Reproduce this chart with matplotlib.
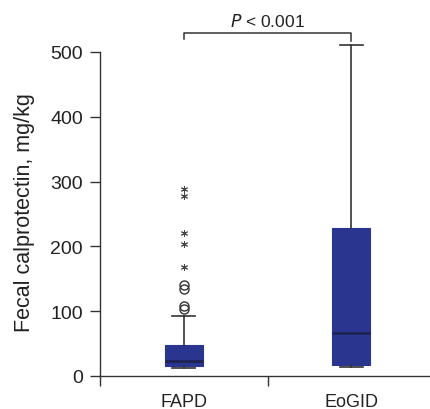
import matplotlib
matplotlib.use("Agg")
import matplotlib.pyplot as plt

plt.rcParams["font.family"] = ["Liberation Sans", "DejaVu Sans"]

categories = ["FAPD", "EoGID"]
q1 = [15.5, 17.5]
medians = [23, 66]
q3 = [47.5, 228]
whisker_low = [12.5, 14]
whisker_high = [92.5, 511]
mild_outliers = [[104, 108, 134, 140], []]
extreme_outliers = [[168, 204, 221, 278, 289], []]
y_ticks = [0, 100, 200, 300, 400, 500]
p_text = "< 0.001"

BOX_COLOR = "#2A3590"
MEDIAN_COLOR = "#1C2150"
LINE_COLOR = "#333333"
TEXT_COLOR = "#222222"

fig = plt.figure(figsize=(4.3, 4.1), dpi=100)
ax = fig.add_axes([0.2326, 0.0805, 0.7674, 0.8851])

positions = [0.5, 1.5]
stats = []
for i, name in enumerate(categories):
  stats.append({"label": name, "q1": q1[i], "med": medians[i], "q3": q3[i],
                "whislo": whisker_low[i], "whishi": whisker_high[i],
                "fliers": mild_outliers[i]})

ax.bxp(stats, positions=positions, widths=0.226, patch_artist=True,
       showfliers=True,
       boxprops={"facecolor": BOX_COLOR, "edgecolor": BOX_COLOR, "linewidth": 0.8},
       medianprops={"color": MEDIAN_COLOR, "linewidth": 1.8},
       whiskerprops={"color": LINE_COLOR, "linewidth": 1.2},
       capprops={"color": LINE_COLOR, "linewidth": 1.2},
       capwidths=0.137,
       flierprops={"marker": "o", "markerfacecolor": "none", "markeredgecolor": LINE_COLOR,
                   "markersize": 6.5, "markeredgewidth": 1.0},
       manage_ticks=False)

# extreme outliers drawn as asterisks
for i, vals in enumerate(extreme_outliers):
  if vals:
    ax.plot([positions[i]] * len(vals), vals, linestyle="none", marker=(6, 2, 0),
            color="#444444", markersize=5, markeredgewidth=0.7, clip_on=False)

for artist in ax.lines + ax.patches:
  artist.set_clip_on(False)

# significance bracket
ax.plot([0.5, 0.5, 1.5, 1.5], [520, 529, 529, 517], color=LINE_COLOR, linewidth=1.1,
        clip_on=False)
ax.text(1.0, 535, "$\\it{P}$ " + p_text, ha="center", va="bottom", fontsize=12.5,
        color=TEXT_COLOR)

ax.set_xlim(0, 1.97)
ax.set_ylim(0, 560)
ax.spines["top"].set_visible(False)
ax.spines["right"].set_visible(False)
ax.spines["left"].set_bounds(0, 500)
ax.spines["left"].set_color(LINE_COLOR)
ax.spines["bottom"].set_color(LINE_COLOR)
ax.spines["left"].set_linewidth(1.0)
ax.spines["bottom"].set_linewidth(1.0)

ax.set_yticks(y_ticks)
ax.set_yticklabels([str(t) for t in y_ticks], fontsize=14, color=TEXT_COLOR)
ax.set_xticks([0, 1])
ax.set_xticklabels(["", ""])
ax.set_xticks(positions, minor=True)
ax.set_xticklabels(categories, minor=True, fontsize=13, color=TEXT_COLOR)
ax.tick_params(axis="x", which="minor", length=0, pad=12.5)
ax.tick_params(axis="both", which="major", length=7.2, width=1.0, color=LINE_COLOR)
ax.tick_params(axis="y", which="major", pad=5)
ax.set_ylabel("Fecal calprotectin, mg/kg", fontsize=15.5, color=TEXT_COLOR)
ax.yaxis.set_label_coords(-0.196, 0.452)

fig.savefig("out.png", dpi=100, facecolor="white")
